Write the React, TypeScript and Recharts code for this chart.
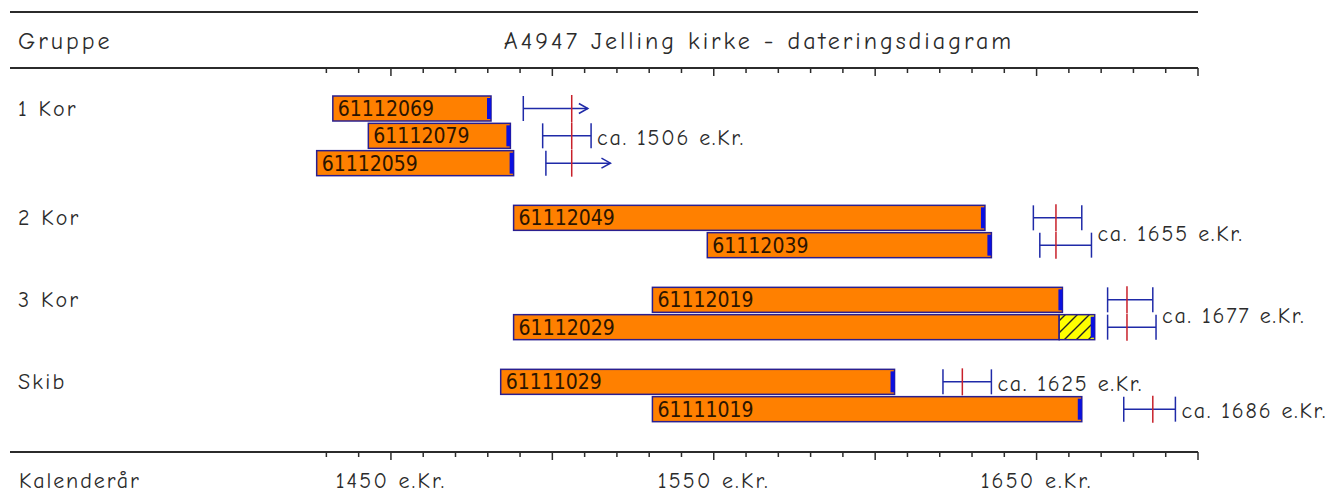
import React from 'react';
import { ComposedChart, Bar, XAxis, YAxis, LabelList, Label } from 'recharts';

// Dendro dating diagram: tree-ring series per sample, felling-date estimate per sample

const groupNames = ['1 Kor', '2 Kor', '3 Kor', 'Skib'];
const sampleIds = ['61112069', '61112079', '61112059', '61112049', '61112039', '61112019', '61112029', '61111029', '61111019'];
const sampleGroup = [0, 0, 0, 1, 1, 2, 2, 3, 3];
const firstRing = [1432, 1443, 1427, 1488, 1548, 1531, 1488, 1484, 1531];
const lastRing = [1481, 1487, 1488, 1634, 1636, 1658, 1668, 1606, 1664];
const sapwoodRings = [0, 0, 0, 0, 0, 0, 11, 0, 0];
const fellingFrom = [1491, 1497, 1498, 1649, 1651, 1672, 1672, 1621, 1677];
const fellingTo = [1511, 1512, 1518, 1664, 1667, 1686, 1687, 1636, 1693];
const fellingOpen = [true, false, true, false, false, false, false, false, false];
const datingYear = [1506, 1506, 1506, 1655, 1655, 1677, 1677, 1625, 1686];
const datingMark = [1506, 1506, 1506, 1656, 1656, 1678, 1678, 1627, 1686];

const axisTicks = [1430, 1440, 1450, 1460, 1470, 1480, 1490, 1500, 1510, 1520, 1530, 1540, 1550, 1560,
  1570, 1580, 1590, 1600, 1610, 1620, 1630, 1640, 1650, 1660, 1670, 1680, 1690, 1700];
const labeledTicks = [1450, 1550, 1650];

const W = 1330;
const H = 504;
const TOP_AXIS_H = 68;
const BOTTOM_AXIS_H = 52;
const PAD_TOP = 27;
const PAD_BOTTOM = 29;

const HAND = '"Comic Sans MS", "Comic Neue", "DejaVu Sans", sans-serif';
const BARFONT = '"DejaVu Sans Condensed", "DejaVu Sans", sans-serif';
const INK = '#2b2b2b';
const ORANGE = '#ff8000';
const BORDER = '#2a1f8f';
const CAP = '#0a10e0';
const MARK = '#1f2aa8';
const RED = '#c8202a';

type Row = {
  key: string;
  group?: string;
  id?: string;
  first?: number;
  heartEnd?: number;
  last?: number;
  sap?: number;
  from?: number;
  to?: number;
  open?: boolean;
  date?: number;
  mark?: number;
  note?: string;
  noteMode?: 'center' | 'below';
  noteTo?: number;
};

const rows: Row[] = [];
groupNames.forEach((g, gi) => {
  if (gi > 0) rows.push({ key: `gap${gi}` });
  const idx = sampleIds.map((_, i) => i).filter((i) => sampleGroup[i] === gi);
  const start = rows.length;
  idx.forEach((i, k) => {
    rows.push({
      key: sampleIds[i],
      group: k === 0 ? g : undefined,
      id: sampleIds[i],
      first: firstRing[i],
      heartEnd: lastRing[i] - sapwoodRings[i],
      last: lastRing[i],
      sap: sapwoodRings[i],
      from: fellingFrom[i],
      to: fellingTo[i],
      open: fellingOpen[i],
      date: datingYear[i],
      mark: datingMark[i],
    });
  });
  // one "ca. xxxx e.Kr." note per run of samples sharing the same dating
  let k = 0;
  while (k < idx.length) {
    let e = k;
    while (e + 1 < idx.length && datingYear[idx[e + 1]] === datingYear[idx[k]]) e++;
    const n = e - k + 1;
    if (n % 2 === 1) {
      const r = rows[start + k + (n - 1) / 2];
      r.note = `ca. ${r.date} e.Kr.`;
      r.noteMode = 'center';
      r.noteTo = r.to;
    } else {
      const r = rows[start + k + n / 2 - 1];
      const r2 = rows[start + k + n / 2];
      r.note = `ca. ${r.date} e.Kr.`;
      r.noteMode = 'below';
      r.noteTo = Math.max(r.to as number, r2.to as number);
    }
    k = e + 1;
  }
});

const PITCH = (H - TOP_AXIS_H - BOTTOM_AXIS_H - PAD_TOP - PAD_BOTTOM) / rows.length;

function RingShape(props: any) {
  const { x, y, width, height, payload } = props;
  if (payload.first == null || !width) return null;
  return (
    <g>
      <rect x={x} y={y} width={width} height={height} fill={ORANGE} stroke={BORDER} strokeWidth={1.5} />
      {!payload.sap && <rect x={x + width - 4} y={y + 2} width={4} height={height - 4} fill={CAP} />}
    </g>
  );
}

function SapShape(props: any) {
  const { x, y, width, height, payload } = props;
  if (!payload.sap || !width) return null;
  return (
    <g>
      <defs>
        <pattern id="sap-hatch" width="12" height="12" patternUnits="userSpaceOnUse">
          <rect width="12" height="12" fill="#ffff00" />
          <path d="M0,12 L12,0 M-3,3 L3,-3 M9,15 L15,9" stroke="#222" strokeWidth="1.4" />
        </pattern>
      </defs>
      <rect x={x} y={y} width={width} height={height} fill="url(#sap-hatch)" stroke={BORDER} strokeWidth={1.5} />
      <rect x={x + width - 4} y={y + 2} width={4} height={height - 4} fill={CAP} />
    </g>
  );
}

function FellingShape(props: any) {
  const { x, y, width, height, payload } = props;
  if (payload.from == null) return null;
  const cy = y + height / 2;
  const x2 = x + width;
  let note = null;
  if (payload.note) {
    const perYear = width / (payload.to - payload.from);
    const nx = x + (payload.noteTo - payload.from) * perYear + 6;
    const ny = cy + (payload.noteMode === 'below' ? PITCH / 2 : 0) + 2;
    note = (
      <text x={nx} y={ny} dominantBaseline="central" fontFamily={HAND} fontSize={22} letterSpacing={1.8} fill={INK} stroke="none">
        {payload.note}
      </text>
    );
  }
  return (
    <g stroke={MARK} strokeWidth={1.5} fill="none">
      <line x1={x} y1={y} x2={x} y2={y + height} />
      <line x1={x} y1={cy} x2={x2} y2={cy} />
      {payload.open ? (
        <polyline points={`${x2 - 9},${cy - 5} ${x2},${cy} ${x2 - 9},${cy + 5}`} />
      ) : (
        <line x1={x2} y1={y} x2={x2} y2={y + height} />
      )}
      {note}
    </g>
  );
}

function DateLine(props: any) {
  const { x, y, width, height, payload } = props;
  if (payload.mark == null) return null;
  const cx = x + width / 2;
  return <line x1={cx} y1={y} x2={cx} y2={y + height} stroke={RED} strokeWidth={1.5} />;
}

function TopTick(props: any) {
  const { x, y, payload } = props;
  const long = payload.value % 50 === 0;
  return <line x1={x} y1={y} x2={x} y2={y + (long ? 8 : 5)} stroke={INK} strokeWidth={1.5} />;
}

function BottomTick(props: any) {
  const { x, y, payload } = props;
  const long = payload.value % 50 === 0;
  return (
    <g>
      <line x1={x} y1={y} x2={x} y2={y + (long ? 8 : 5)} stroke={INK} strokeWidth={1.5} />
      {labeledTicks.includes(payload.value) && (
        <text x={x} y={y + 29} textAnchor="middle" dominantBaseline="central" fontFamily={HAND} fontSize={22} letterSpacing={2.2} fill={INK}>
          {`${payload.value} e.Kr.`}
        </text>
      )}
    </g>
  );
}

function GroupTick(props: any) {
  const { y, payload } = props;
  const row = rows.find((r) => r.key === payload.value);
  if (!row || !row.group) return null;
  return (
    <text x={18} y={y} dominantBaseline="central" fontFamily={HAND} fontSize={22} letterSpacing={2.2} fill={INK}>
      {row.group}
    </text>
  );
}

function Header(props: any) {
  const vb = props.viewBox || { x: 10, y: 0, width: 1188, height: TOP_AXIS_H };
  return (
    <g>
      <line x1={vb.x} y1={12} x2={vb.x + vb.width} y2={12} stroke={INK} strokeWidth={2} />
      <text x={18} y={41} dominantBaseline="central" fontFamily={HAND} fontSize={24} letterSpacing={3} fill={INK}>
        Gruppe
      </text>
      <text x={759} y={41} textAnchor="middle" dominantBaseline="central" fontFamily={HAND} fontSize={24} letterSpacing={3} fill={INK}>
        A4947 Jelling kirke - dateringsdiagram
      </text>
    </g>
  );
}

function Footer(props: any) {
  const vb = props.viewBox || { x: 10, y: H - BOTTOM_AXIS_H };
  return (
    <text x={19} y={vb.y + 29} dominantBaseline="central" fontFamily={HAND} fontSize={22} letterSpacing={1.9} fill={INK}>
      Kalenderår
    </text>
  );
}

export default function App() {
  const domain: [number, number] = [1332, 1700];
  const yProps = { type: 'category' as const, dataKey: 'key', padding: { top: PAD_TOP, bottom: PAD_BOTTOM } };
  return (
    <div style={{ position: 'absolute', left: 0, top: 0, width: W, height: H, background: '#fff' }}>
      <ComposedChart
        width={W}
        height={H}
        data={rows}
        layout="vertical"
        barCategoryGap={0}
        margin={{ top: 0, right: 132, bottom: 0, left: 10 }}
      >
        <XAxis
          xAxisId="top"
          orientation="top"
          type="number"
          domain={domain}
          allowDataOverflow
          ticks={axisTicks}
          interval={0}
          height={TOP_AXIS_H}
          tickSize={0}
          tickMargin={0}
          tickLine={false}
          axisLine={{ stroke: INK, strokeWidth: 2 }}
          tick={<TopTick />}
        >
          <Label content={<Header />} />
        </XAxis>
        <XAxis
          type="number"
          domain={domain}
          ticks={axisTicks}
          interval={0}
          height={BOTTOM_AXIS_H}
          tickSize={0}
          tickMargin={0}
          tickLine={false}
          axisLine={{ stroke: INK, strokeWidth: 2 }}
          tick={<BottomTick />}
        >
          <Label content={<Footer />} />
        </XAxis>
        <YAxis yAxisId="ring" {...yProps} mirror axisLine={false} tickLine={false} tickSize={0} tickMargin={0} tick={<GroupTick />} />
        <YAxis yAxisId="sap" {...yProps} hide />
        <YAxis yAxisId="fell" {...yProps} hide />
        <YAxis yAxisId="date" {...yProps} hide />

        <Bar
          yAxisId="ring"
          dataKey={(d: Row) => (d.first == null ? null : [d.first, d.heartEnd])}
          barSize={25}
          shape={<RingShape />}
          isAnimationActive={false}
        >
          <LabelList
            dataKey="id"
            position="insideLeft"
            offset={5}
            style={{ fontFamily: BARFONT, fontSize: 21, fill: '#2b1400' }}
          />
        </Bar>
        <Bar
          yAxisId="sap"
          dataKey={(d: Row) => (d.sap ? [d.heartEnd, d.last] : null)}
          barSize={25}
          shape={<SapShape />}
          isAnimationActive={false}
        />
        <Bar
          yAxisId="fell"
          dataKey={(d: Row) => (d.from == null ? null : [d.from, d.to])}
          barSize={25}
          shape={<FellingShape />}
          isAnimationActive={false}
        />
        <Bar
          yAxisId="date"
          dataKey={(d: Row) => (d.mark == null ? null : [d.mark - 0.3, d.mark + 0.3])}
          shape={<DateLine />}
          isAnimationActive={false}
        />
      </ComposedChart>
    </div>
  );
}
